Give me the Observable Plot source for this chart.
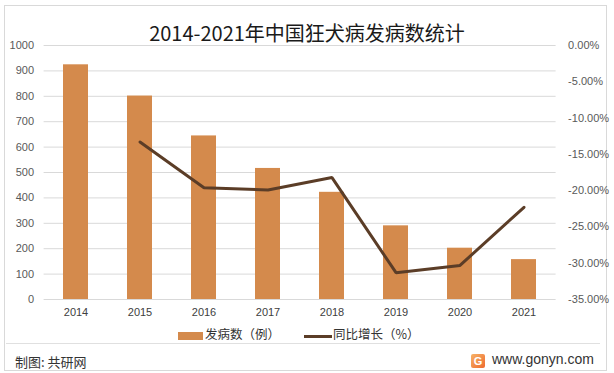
<!DOCTYPE html>
<html><head><meta charset="utf-8">
<script src="https://cdn.jsdelivr.net/npm/d3@7"></script>
<script src="https://cdn.jsdelivr.net/npm/@observablehq/plot@0.6"></script>
<style>
body{margin:0;background:#fff;}
#wrap{position:relative;width:614px;height:373px;overflow:hidden;background:#fff;font-family:"Noto Sans CJK SC","Noto Sans",sans-serif;}
#frame{position:absolute;left:4px;top:5px;width:603px;height:366px;border:1px solid #d9d9d9;box-sizing:border-box;}
.layer{position:absolute;left:0;top:0;}
#title{position:absolute;left:0;width:614px;top:19px;text-align:center;font-size:20px;color:#1a1a1a;line-height:28px;}
#legend{position:absolute;top:326px;left:0;width:614px;font-size:12.5px;color:#333;}
#sep{position:absolute;left:6px;width:594px;top:343px;height:1px;background:#e0e0e0;}
#credit{position:absolute;left:15px;top:352px;font-size:13px;color:#333;}
#site{position:absolute;left:492px;top:351px;font-size:14px;color:#333;font-family:"Liberation Sans",Arial,sans-serif;}
#logo{position:absolute;left:471px;top:354px;width:14px;height:14px;border-radius:2px;background:linear-gradient(135deg,#f7b267,#ee6b2f);color:#fff;font:bold 11px "Liberation Sans",Arial,sans-serif;text-align:center;line-height:14px;}
</style></head>
<body>
<div id="wrap">
  <div id="frame"></div>
  <div id="bars" class="layer"></div>
  <div id="line" class="layer"></div>
  <div id="title">2014-2021年中国狂犬病发病数统计</div>
  <div id="legend">
    <span style="position:absolute;left:178px;top:6px;width:25px;height:8px;background:#d48a4c"></span>
    <span style="position:absolute;left:205px;top:-2px;">发病数（例）</span>
    <span style="position:absolute;left:304px;top:9px;width:28px;height:3px;background:#5b3d27"></span>
    <span style="position:absolute;left:333px;top:-2px;">同比增长（%）</span>
  </div>
  <div id="sep"></div>
  <div id="credit">制图: 共研网</div>
  <div id="logo">G</div>
  <div id="site">www.gonyn.com</div>
</div>
<script>
const years = ["2014","2015","2016","2017","2018","2019","2020","2021"];
const cases = [924, 801, 644, 516, 422, 290, 202, 157];
const growth = [null, -13.3, -19.6, -19.9, -18.2, -31.3, -30.3, -22.3];
const leftTicks = [0,100,200,300,400,500,600,700,800,900,1000];
const rightTicks = [0,-5,-10,-15,-20,-25,-30,-35];

const W = 614, H = 320;
const M = {marginTop:45, marginBottom:21, marginLeft:43.6, marginRight:58.4};
const xOpt = {type:"band", domain: years, paddingInner:0.61, paddingOuter:0.305};
const style = {fontFamily:"'Liberation Sans',Arial,sans-serif", fontSize:"11px", color:"#595959", background:"transparent", overflow:"visible"};

const barData = years.map((y,i)=>({year:y, v:cases[i]}));
const lineData = years.map((y,i)=>({year:y, g:growth[i]})).filter(d=>d.g!==null);

const p1 = Plot.plot({
  width:W, height:H, ...M, style,
  x: xOpt,
  y: {domain:[0,1000]},
  marks:[
    Plot.gridY(leftTicks, {stroke:"#d9d9d9", strokeOpacity:1, strokeWidth:1}),
    Plot.barY(barData, {x:"year", y:"v", fill:"#d48a4c"}),
    Plot.axisY(leftTicks, {anchor:"left", tickSize:0, tickPadding:10, label:null, fill:"#595959", tickFormat: d => String(d)}),
    Plot.axisX({anchor:"bottom", tickSize:0, tickPadding:9, label:null, fill:"#404040"})
  ]
});
document.getElementById("bars").append(p1);

const p2 = Plot.plot({
  width:W, height:H, ...M, style,
  x: xOpt,
  y: {domain:[-35,0]},
  marks:[
    Plot.line(lineData, {x:"year", y:"g", stroke:"#5b3d27", strokeWidth:3, strokeLinejoin:"miter"}),
    Plot.axisY(rightTicks, {anchor:"right", tickSize:0, tickPadding:12, label:null, fill:"#595959", tickFormat: d => d.toFixed(2)+"%"}),
    Plot.axisX({anchor:"bottom", ticks:[], label:null})
  ]
});
document.getElementById("line").append(p2);
</script>
</body></html>
